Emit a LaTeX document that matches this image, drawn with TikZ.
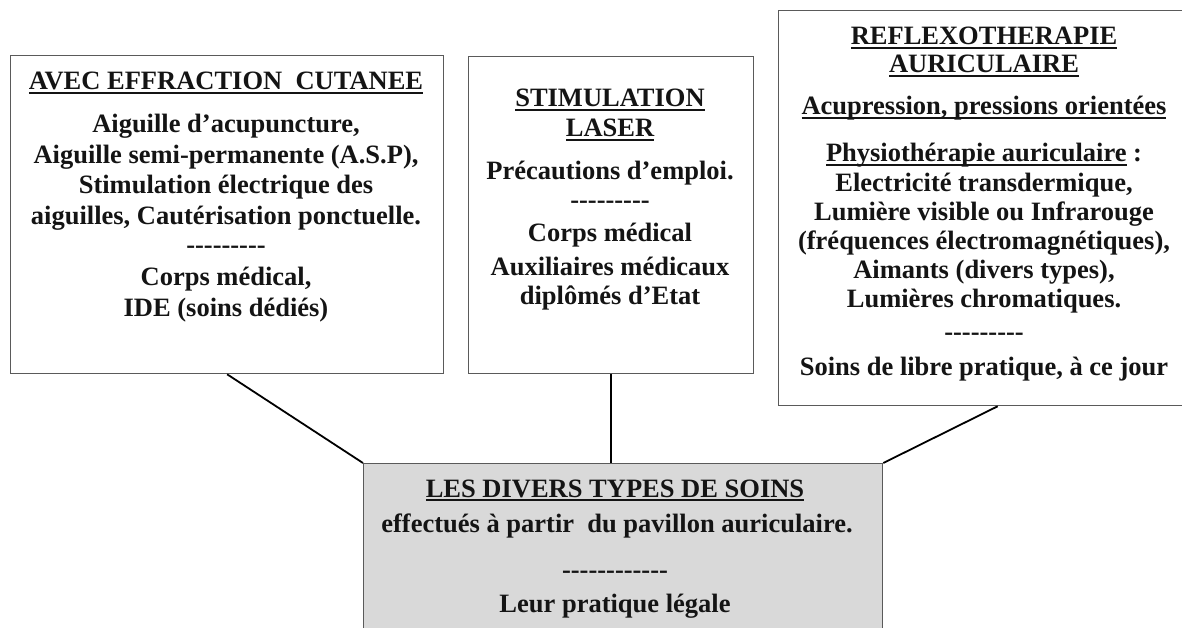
\documentclass[tikz,border=0pt]{standalone}
\usepackage{fontspec}
\setmainfont{Liberation Serif}
\newcommand{\myul}[1]{\setbox0\hbox{#1}\rlap{\rule[-3.6pt]{\wd0}{1.5pt}}\box0\relax}
\newcommand{\dashline}[1]{\foreach \i in {1,...,#1}{-}}
\definecolor{boxline}{HTML}{5A5A5A}
\definecolor{boxfill}{HTML}{D9D9D9}
\definecolor{inkc}{HTML}{141414}
\tikzset{
  boxnode/.style={draw=boxline, line width=1.3pt, rectangle, inner sep=0pt, anchor=north west},
  txt/.style={font=\bfseries\fontsize{26.5}{30}\selectfont, anchor=base, inner sep=0pt, text=inkc},
  link/.style={draw=black, line width=1.8pt}
}
\begin{document}
\begin{tikzpicture}[x=1pt,y=-1pt]
\useasboundingbox (0,0) rectangle (1182,628);
\clip (0,0) rectangle (1182,628);
\fill[white] (0,0) rectangle (1182,628);
% boxes
\node[boxnode, minimum width=433pt, minimum height=318pt] (b1) at (10,55) {};
\node[boxnode, minimum width=285pt, minimum height=317pt] (b2) at (468,56) {};
\node[boxnode, minimum width=412pt, minimum height=395pt] (b3) at (778,10) {};
\node[boxnode, fill=boxfill, minimum width=519pt, minimum height=220pt] (b0) at (363,463) {};
% connectors
\draw[link] (b1.south) -- (b0.north west);
\draw[link] (b2.south) -- (b2.south |- b0.north);
\draw[link] ([xshift=13pt]b3.south) -- (b0.north east);
% box 1 text
\node[txt] (t11) at (226,90) {\myul{AVEC EFFRACTION\ \ CUTANEE}};
\node[txt] (t12) at (226,133) {Aiguille d’acupuncture,};
\node[txt] (t13) at (226,164) {Aiguille semi-permanente (A.S.P),};
\node[txt] (t14) at (226,194) {Stimulation électrique des};
\node[txt] (t15) at (226,225) {aiguilles, Cautérisation ponctuelle.};
\node[txt] (t16) at (226,254) {\dashline{9}};
\node[txt] (t17) at (226,285) {Corps médical,};
\node[txt] (t18) at (226,316) {IDE (soins dédiés)};
% box 2 text
\node[txt] (t21) at (610,107) {\myul{STIMULATION}};
\node[txt] (t22) at (610,137) {\myul{LASER}};
\node[txt] (t23) at (610,180) {Précautions d’emploi.};
\node[txt] (t24) at (610,209) {\dashline{9}};
\node[txt] (t25) at (610,241) {Corps médical};
\node[txt] (t26) at (610,275) {Auxiliaires médicaux};
\node[txt] (t27) at (610,304) {diplômés d’Etat};
% box 3 text
\node[txt] (t31) at (984,45) {\myul{REFLEXOTHERAPIE}};
\node[txt] (t32) at (984,73) {\myul{AURICULAIRE}};
\node[txt] (t33) at (984,115) {\myul{Acupression, pressions orientées}};
\node[txt] (t34) at (984,162) {\myul{Physiothérapie auriculaire} :};
\node[txt] (t35) at (984,192) {Electricité transdermique,};
\node[txt] (t36) at (984,221) {Lumière visible ou Infrarouge};
\node[txt] (t37) at (984,250) {(fréquences électromagnétiques),};
\node[txt] (t38) at (984,278) {Aimants (divers types),};
\node[txt] (t39) at (984,307) {Lumières chromatiques.};
\node[txt] (t3a) at (984,340) {\dashline{9}};
\node[txt] (t3b) at (984,375) {Soins de libre pratique, à ce jour};
% bottom box text
\node[txt] (t01) at (615,497) {\myul{LES DIVERS TYPES DE SOINS}};
\node[txt] (t02) at (617,532) {effectués à partir\ \ du pavillon auriculaire.};
\node[txt] (t03) at (615,578) {\dashline{12}};
\node[txt] (t04) at (615,612) {Leur pratique légale};
\end{tikzpicture}
\end{document}
